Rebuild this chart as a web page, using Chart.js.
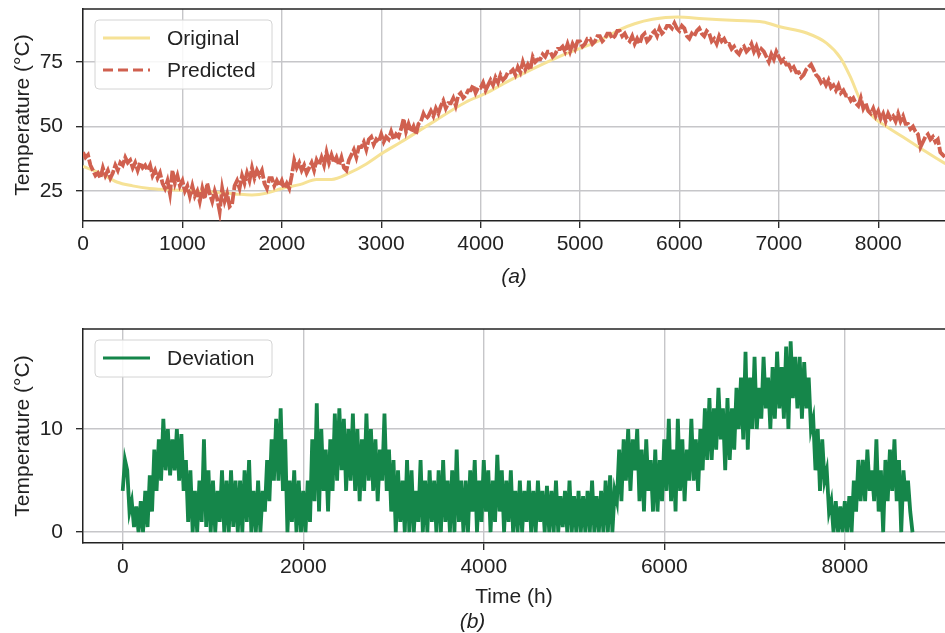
<!DOCTYPE html>
<html>
<head>
<meta charset="utf-8">
<script src="https://cdn.jsdelivr.net/npm/chart.js@4.4.1/dist/chart.umd.min.js"></script>
<style>
  body { margin: 0; background: #fff; }
  .quadro { position: absolute; left: 0; width: 945px; }
</style>
</head>
<body>
<div class="quadro" style="top:0;height:300px"><canvas id="graficoTemp" width="945" height="300"></canvas></div>
<div class="quadro" style="top:310px;height:323px"><canvas id="graficoDesvio" width="945" height="323"></canvas></div>
<script>
// amostras, uma a cada 25 h
const passoHoras = 25;

const horasOriginal = [0, 170, 340, 500, 670, 1000, 1300, 1550, 1700, 1850, 2000, 2180, 2350, 2500, 2680,
  2850, 3000, 3200, 3500, 3850, 4050, 4250, 4530, 4860, 5200, 5400, 5550, 5730, 5980, 6240, 6580, 6840,
  7010, 7280, 7480, 7620, 7720, 7820, 7950, 8090, 8250, 8420, 8650, 8760];
const tempOriginal = [34.5, 32, 28.5, 27, 26, 25.3, 24.6, 23.8, 23.5, 24.2, 26, 27.5, 29.5, 29.5, 32,
  35.5, 39.4, 44, 51.2, 59.4, 62.8, 67, 72.4, 78.2, 83.3, 87.5, 89.8, 91.5, 92.4, 91.7, 91, 90.5,
  88.6, 86.2, 82.3, 76.6, 69.2, 60.3, 53.7, 49.8, 45.9, 41.7, 36.2, 34];

// uma linha = 100 h
const tempPrevista = [
  40, 38, 39, 35,  33, 31, 32, 30,  34, 31, 33, 30,  32, 35, 33, 36,  35, 38, 36, 37,
  34, 36, 33, 36,  34, 35, 33, 35,  31, 33, 30, 32,  28, 26, 29, 24,  33, 28, 31, 27,
  29, 25, 27, 23,  27, 23, 25, 21,  26, 22, 28, 24,  21, 25, 22, 17,  26, 21, 24, 19,
  20, 27, 29, 26,  31, 28, 32, 29,  34, 30, 33, 31,  33, 28, 26, 30,  30, 27, 29, 27,
  29, 26, 28, 26,  31, 37, 34, 36,  33, 35, 32, 34,  36, 33, 37, 35,  38, 35, 40, 36,
  39, 36, 38, 35,  38, 34, 33, 37,  39, 41, 38, 42,  42, 44, 41, 45,  46, 43, 45, 44,
  47, 44, 46, 45,  48, 45, 47, 46,  49, 53, 48, 51,  48, 50, 47, 51,  52, 55, 53, 54,
  56, 54, 57, 55,  58, 60, 57, 59,  59, 61, 58, 62,  63, 61, 62, 64,  64, 66, 63, 65,
  65, 67, 64, 66,  68, 66, 69, 67,  70, 68, 69, 71,  71, 72, 70, 73,  71, 75, 72, 74,
  72, 77, 75, 76,  76, 78, 77, 79,  79, 77, 78, 80,  80, 81, 79, 82,  79, 82, 80, 83,
  83, 81, 82, 84,  84, 82, 83, 85,  85, 83, 84, 86,  86, 84, 85, 87,  87, 85, 86, 84,
  83, 85, 82, 84,  82, 85, 86, 83,  84, 86, 87, 85,  88, 86, 87, 89,  89, 88, 90, 88,
  87, 89, 88, 85,  84, 86, 85, 87,  88, 86, 85, 87,  86, 83, 84, 82,  85, 83, 84, 82,
  82, 80, 81, 79,  78, 80, 81, 79,  80, 82, 79, 81,  78, 80, 79, 77,  75, 78, 76, 79,
  77, 75, 76, 74,  74, 72, 73, 71,  71, 69, 70, 72,  73, 74, 72, 70,  69, 67, 68, 66,
  68, 65, 66, 64,  66, 63, 64, 62,  62, 60, 61, 59,  58, 61, 57, 59,  56, 55, 57, 54,
  56, 53, 55, 52,  55, 53, 54, 52,  55, 52, 54, 51,  51, 49, 50, 48,  47, 42, 44, 46,
  47, 45, 46, 44,  45, 40, 39, 38,
  38];

const desvio = [
  4, 7, 6, 2,  3, 0.5, 2.5, 0,  3, 0, 4, 0.5,  5.5, 2, 8, 4,  9, 5, 11, 6,
  10, 5.5, 9, 6,  10, 5, 9.5, 4,  7, 1, 6, 0,  4, 0, 5, 1,  9, 0.5, 6, 0,
  5, 0, 4, 1,  6, 0, 5, 0,  6, 0.5, 5, 0,  5, 0, 6, 1,  7, 0, 4, 0,
  5, 0, 4, 2,  7, 3, 9, 5,  11, 5, 12, 4,  9, 0, 5, 1,  6, 0, 5, 0,
  4, 0, 5, 1,  9, 3, 12.5, 2,  10, 4, 8, 2,  9, 4, 11.5, 5,  12, 6, 11, 4,
  10, 5, 11.5, 4,  10, 3, 9, 4,  11.5, 5, 10, 4,  9, 3, 8, 5,  11.5, 4, 8, 2,
  7, 0, 6, 1,  5, 0, 7, 0,  6, 0, 4, 1,  7, 0, 5, 0,  6, 1, 5, 0,
  6, 0, 7, 1,  5, 0, 6, 0,  8, 1, 5, 0,  5, 0, 6, 2,  7, 0, 5, 1,
  7, 2, 6, 0,  5, 1, 7.5, 2,  6, 0, 5, 1,  6, 0, 4, 0,  5, 0, 4, 1,
  5, 0, 4, 0,  5, 1, 4, 0,  4.5, 0, 4, 0,  5, 0, 3.5, 0.5,  4, 0, 5, 0,
  3.5, 0, 4, 0,  3.5, 0, 4, 0,  5, 0, 3.5, 0,  4, 0, 5, 0,  5.5, 0, 4, 3,
  8, 3, 9, 5,  10, 4, 9, 6,  10, 3, 8, 2,  9, 4, 7, 2,  8, 2, 7, 3,
  9, 4, 11, 3,  8, 2, 11, 4,  9, 3, 8, 5,  11, 5, 9, 4,  10, 6, 12, 7,
  13, 7, 12, 8,  14, 9, 12, 6,  13, 7, 12, 8,  14, 10, 15, 9,  17.5, 8, 15, 10,
  17, 10, 14, 11,  17, 12, 15, 10,  16, 11, 17.5, 12,  16, 11, 18, 10,  18.5, 13, 17, 12,
  17, 11, 16.5, 12,  15, 10, 11, 6,  10, 4, 9, 5,  6, 2, 3, 0,  3, 0, 2.5, 0,
  3, 0, 3.5, 0,  5, 2, 7, 3,  7, 3, 8, 4,  6, 3, 9, 2,  6, 0, 7, 3,
  8, 4, 9, 3,  7, 0, 6, 3,
  5, 2, 0];

const ticksXTemp = [0, 1000, 2000, 3000, 4000, 5000, 6000, 7000, 8000];
const ticksYTemp = [25, 50, 75];
const ticksXDesvio = [0, 2000, 4000, 6000, 8000];
const ticksYDesvio = [0, 10];

const corOriginal = "#f6e296";
const corPrevista = "#d0604f";
const corDesvio = "#15864a";
const corGrade = "#c6c6c9";
const corTexto = "#222222";
const fonte = "'Liberation Sans', Arial, sans-serif";

function pontos(valores, horas) {
  return valores.map((v, i) => ({ x: horas ? horas[i] : i * passoHoras, y: v }));
}

// caixa de legenda no estilo do matplotlib + borda superior
const molduraPlugin = {
  id: "moldura",
  afterDatasetsDraw(chart, args, opts) {
    const ctx = chart.ctx;
    const area = chart.chartArea;
    ctx.save();
    ctx.strokeStyle = corTexto;
    ctx.lineWidth = 1.5;
    ctx.beginPath();
    ctx.moveTo(area.left, area.top);
    ctx.lineTo(area.right, area.top);
    ctx.stroke();

    const x0 = area.left + 12;
    const y0 = area.top + 11;
    const alt = opts.itens.length * 32 + 5;
    ctx.fillStyle = "rgba(255,255,255,0.85)";
    ctx.strokeStyle = "#d4d4d4";
    ctx.lineWidth = 1;
    ctx.beginPath();
    ctx.roundRect(x0, y0, 177, alt, 4);
    ctx.fill();
    ctx.stroke();

    opts.itens.forEach((item, i) => {
      const ds = chart.data.datasets[item.indice];
      const y = y0 + 18 + i * 32;
      ctx.strokeStyle = ds.borderColor;
      ctx.lineWidth = 2.8;
      ctx.setLineDash(item.traco || []);
      ctx.beginPath();
      ctx.moveTo(x0 + 8, y);
      ctx.lineTo(x0 + 55, y);
      ctx.stroke();
      ctx.setLineDash([]);
      ctx.fillStyle = corTexto;
      ctx.font = "21px " + fonte;
      ctx.textBaseline = "middle";
      ctx.fillText(ds.label, x0 + 72, y + 1);
    });
    ctx.restore();
  },
};

function eixo(ticks, extra, ajuste, pad) {
  return Object.assign({
    type: "linear",
    afterBuildTicks: (s) => { s.ticks = ticks.map((v) => ({ value: v })); },
    afterFit: (s) => {
      ajuste(s);
      s.paddingTop = 0; s.paddingBottom = 0; s.paddingLeft = 0; s.paddingRight = 0;
    },
    border: { color: corTexto, width: 1.5 },
    grid: { color: corGrade, lineWidth: 1.4, tickColor: corTexto, tickLength: 7, tickWidth: 1.3 },
    ticks: {
      color: corTexto, font: { family: fonte, size: 21 }, maxRotation: 0, autoSkip: false,
      padding: pad, callback: (v) => String(v),
    },
  }, extra);
}

const tituloY = { display: true, text: "Temperature (°C)", color: corTexto, font: { family: fonte, size: 21 }, padding: { top: 11, bottom: 0 } };

const graficoTemp = new Chart(document.getElementById("graficoTemp"), {
  type: "line",
  data: {
    datasets: [
      {
        label: "Original",
        data: pontos(tempOriginal, horasOriginal),
        borderColor: corOriginal,
        borderWidth: 3,
        cubicInterpolationMode: "monotone",
        pointRadius: 0,
        order: 2,
      },
      {
        label: "Predicted",
        data: pontos(tempPrevista),
        borderColor: corPrevista,
        borderWidth: 3.8,
        borderDash: [12, 2],
        pointRadius: 0,
        order: 1,
      },
    ],
  },
  options: {
    responsive: false,
    animation: false,
    devicePixelRatio: 1,
    layout: { padding: { top: 9, left: 0, right: 0, bottom: 0 } },
    plugins: {
      legend: { display: false },
      tooltip: { enabled: false },
      moldura: { itens: [{ indice: 0 }, { indice: 1, traco: [10, 5] }] },
    },
    scales: {
      x: eixo(ticksXTemp, {
        min: 0,
        max: 8672,
        title: { display: true, text: "(a)", color: corTexto, font: { family: fonte, size: 21, style: "italic" }, padding: { top: 0, bottom: 10 } },
      }, (s) => { s.height = 79; }, 4),
      y: eixo(ticksYTemp, { min: 13.4, max: 95.5, title: tituloY }, (s) => { s.width = 83; }, 13),
    },
  },
  plugins: [molduraPlugin],
});

const graficoDesvio = new Chart(document.getElementById("graficoDesvio"), {
  type: "line",
  data: {
    datasets: [
      {
        label: "Deviation",
        data: pontos(desvio),
        borderColor: corDesvio,
        borderWidth: 3.8,
        pointRadius: 0,
      },
    ],
  },
  options: {
    responsive: false,
    animation: false,
    devicePixelRatio: 1,
    layout: { padding: { top: 19, left: 0, right: 0, bottom: 0 } },
    plugins: {
      legend: { display: false },
      tooltip: { enabled: false },
      title: {
        display: true,
        position: "bottom",
        text: "(b)",
        color: corTexto,
        font: { family: fonte, size: 21, style: "italic", weight: "normal", lineHeight: 1.0 },
        padding: { top: 0, bottom: 0 },
      },
      moldura: { itens: [{ indice: 0 }] },
    },
    scales: {
      x: eixo(ticksXDesvio, {
        min: -440,
        max: 9110,
        title: { display: true, text: "Time (h)", color: corTexto, font: { family: fonte, size: 21 }, padding: { top: 0, bottom: 2 } },
      }, (s) => { s.height = 69; }, 5),
      y: eixo(ticksYDesvio, { min: -1.05, max: 19.7, title: tituloY }, (s) => { s.width = 83; }, 13),
    },
  },
  plugins: [molduraPlugin],
});
</script>
</body>
</html>
